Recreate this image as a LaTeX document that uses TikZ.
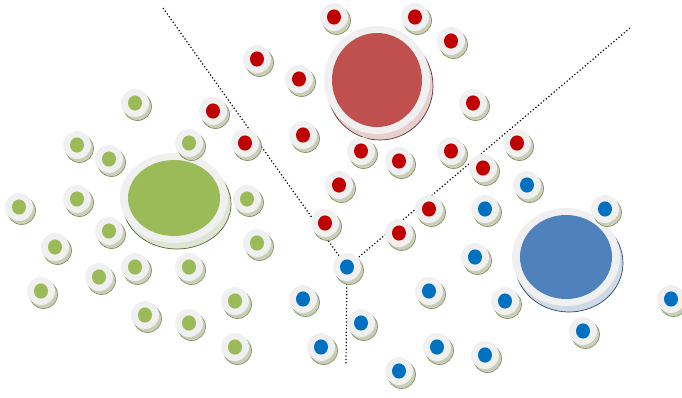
\documentclass[tikz,border=0pt]{standalone}
\usepackage{tikz}
\usetikzlibrary{shapes.geometric,shadows}
\pgfdeclarelayer{edgelayer}
\pgfsetlayers{edgelayer,main}
\definecolor{halo}{HTML}{F0F0F0}
\definecolor{greendot}{HTML}{9BBB59}
\definecolor{reddot}{HTML}{C00000}
\definecolor{bluedot}{HTML}{0070C0}
\definecolor{redbig}{HTML}{C0504D}
\definecolor{bluebig}{HTML}{4F81BD}
\definecolor{rimfill}{HTML}{C9CFB6}
\definecolor{rimdraw}{HTML}{7D8A5E}
\tikzset{
  dot/.style={circle, minimum size=28pt, inner sep=0pt, fill=halo,
    general shadow={fill=rimfill, draw=rimdraw, line width=0.6pt,
      shadow xshift=2.5pt, shadow yshift=-3.5pt},
    path picture={\fill[#1] (path picture bounding box.center) ellipse (7pt and 7.6pt);}},
  bighalo/.style={ellipse, inner sep=0pt, fill=halo,
    general shadow={fill=#1!20!halo, draw=#1!55!black, line width=0.7pt,
      shadow xshift=3pt, shadow yshift=-6pt}},
  bigcore/.style={ellipse, inner sep=0pt, fill=#1},
  divider/.style={line width=1.2pt, dash pattern=on 1.2pt off 2.2pt, black}
}

\begin{document}
\begin{tikzpicture}[x=1pt, y=-1pt]
  \useasboundingbox (0,0) rectangle (682,397);

  % Clusters
  \node[bighalo=greendot, minimum width=108pt, minimum height=90pt] (gbig) at (174,198) {};
  \node[bigcore=greendot, minimum width=92pt, minimum height=76pt] (gcore) at (gbig) {};
  \node[bighalo=redbig, minimum width=106pt, minimum height=108pt] (rbig) at (377,80) {};
  \node[bigcore=redbig, minimum width=90pt, minimum height=94pt] (rcore) at (rbig) {};
  \node[bighalo=bluebig, minimum width=108pt, minimum height=98pt] (bbig) at (566,257) {};
  \node[bigcore=bluebig, minimum width=92pt, minimum height=84pt] (bcore) at (bbig) {};

  % Points
  \foreach \x/\y [count=\i] in {334/17, 415/17, 451/41, 257/59, 299/79, 473/103,
      213/111, 303/135, 245/143, 517/143, 361/151, 451/151, 399/161, 483/168,
      339/185, 429/209, 325/223, 399/233}
    \node[dot=reddot] (r\i) at (\x,\y) {};
  \foreach \x/\y [count=\i] in {135/103, 77/145, 189/143, 109/159, 77/199, 247/199,
      19/207, 109/231, 257/243, 55/247, 135/267, 189/267, 99/277, 41/291,
      235/301, 145/315, 189/323, 235/347}
    \node[dot=greendot] (g\i) at (\x,\y) {};
  \foreach \x/\y [count=\i] in {347/267, 527/185, 485/209, 605/209, 475/257, 429/291,
      303/299, 505/301, 671/299, 361/323, 583/331, 321/347, 437/347, 485/355, 399/371}
    \node[dot=bluedot] (b\i) at (\x,\y) {};

  % Boundaries
  \coordinate (upleft) at (163,8);
  \coordinate (upright) at (630,28);
  \coordinate (down) at (346,365);
  \begin{pgfonlayer}{edgelayer}
    \draw[divider] (upleft) -- (b1.center) -- (upright);
    \draw[divider] (b1.center) -- (down);
  \end{pgfonlayer}

\end{tikzpicture}
\end{document}
